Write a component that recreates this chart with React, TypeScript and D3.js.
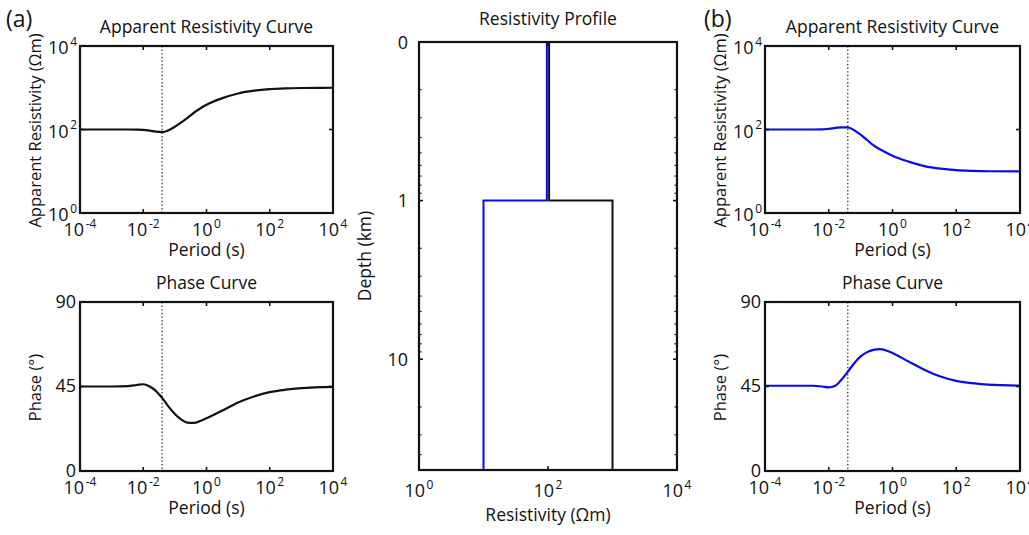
import React from 'react';
import * as d3 from 'd3';

// ---------- data ----------
const periods = [1e-4, 1e-3, 3.2e-3, 6.3e-3, 1e-2, 1.6e-2, 2.5e-2, 4e-2, 6.3e-2, 0.1, 0.16, 0.25, 0.4, 0.63, 1, 3.2, 10, 32, 100, 320, 1000, 1e4];
const rhoA = [100, 100, 100, 99.5, 98, 94, 89, 87, 96, 116, 148, 190, 252, 318, 390, 565, 730, 850, 925, 965, 985, 1000];
const phaseA = [45, 45, 45.2, 45.8, 46.2, 45, 42.7, 38.8, 34.3, 30.4, 27.4, 25.8, 25.6, 26.6, 28.1, 32.2, 36.5, 39.7, 42, 43.3, 44.1, 44.8];
const rhoB = [100, 100, 100, 100.5, 104, 109, 113, 112, 96, 75, 56, 42, 33.5, 28, 23.5, 17, 13.3, 11.5, 10.6, 10.2, 10, 9.9];
const phaseB = [45.4, 45.4, 45.4, 45, 44.5, 45.4, 48.6, 53, 57.4, 61, 63.3, 64.5, 64.9, 64.2, 62.8, 58.3, 53.9, 50.3, 48, 46.8, 46, 45.5];
const skinPeriod = 0.0395;

const periodTicks = [1e-4, 1e-2, 1, 1e2, 1e4];
const periodTickExp = ['-4', '-2', '0', '2', '4'];
const rhoTicks = [1, 1e2, 1e4];
const rhoTickExp = ['0', '2', '4'];
const phaseTicks = [0, 45, 90];

const layerTops = [0.1, 1];
const layerBottoms = [1, 50];
const modelA = [104, 1000];
const modelB = [96, 10];
const depthTicks = [0.1, 1, 10];
const depthTickLabels = ['0', '1', '10'];
const resTicks = [1, 1e2, 1e4];
const resTickExp = ['0', '2', '4'];

// ---------- style ----------
const FONT = "'Open Sans', sans-serif";
const FS = 17.5;
const YFS = 16.5;
const TFS = 18;
const SUP = 12;
const BLUE = '#0a0ae6';
const INK = '#111';
const TICK = 4;

type Box = { x0: number; x1: number; y0: number; y1: number };

function Sup({ x, y, base, exp, anchor }: { x: number; y: number; base: string; exp: string; anchor: string }) {
  return (
    <text x={x} y={y} textAnchor={anchor} fontFamily={FONT} fontSize={TFS} fill={INK}>
      {base}
      <tspan dy={-8.5} dx={1.5} fontSize={SUP}>{exp}</tspan>
    </text>
  );
}

function CurvePanel({ box, title, ylabel, yKind, values, color, label }: any) {
  const x = d3.scaleLog().domain([1e-4, 1e4]).range([box.x0, box.x1]);
  const y = yKind === 'rho'
    ? d3.scaleLog().domain([1, 1e4]).range([box.y1, box.y0])
    : d3.scaleLinear().domain([0, 90]).range([box.y1, box.y0]);
  const line = d3.line<number>()
    .x((_, i) => x(periods[i]))
    .y((v) => y(v))
    .curve(d3.curveMonotoneX);
  const yT = yKind === 'rho' ? rhoTicks : phaseTicks;
  const cx = (box.x0 + box.x1) / 2;
  const cy = (box.y0 + box.y1) / 2;
  return (
    <g>
      {label && (
        <text x={label.x} y={label.y} fontFamily={FONT} fontSize={23} fill={INK}>{label.text}</text>
      )}
      <text x={cx} y={box.y0 - 13} textAnchor="middle" fontFamily={FONT} fontSize={FS} fill={INK}>{title}</text>
      <line x1={x(skinPeriod)} x2={x(skinPeriod)} y1={box.y0} y2={box.y1} stroke="#444" strokeWidth={1.4} strokeDasharray="1.4,2.2" />
      <path d={line(values) || ''} fill="none" stroke={color} strokeWidth={2.2} />
      {periodTicks.slice(1, -1).map((t) => (
        <g key={'xt' + t}>
          <line x1={x(t)} x2={x(t)} y1={box.y1} y2={box.y1 - TICK} stroke={INK} strokeWidth={1.6} />
          <line x1={x(t)} x2={x(t)} y1={box.y0} y2={box.y0 + TICK} stroke={INK} strokeWidth={1.6} />
        </g>
      ))}
      {yT.slice(1, -1).map((t) => (
        <g key={'yt' + t}>
          <line x1={box.x0} x2={box.x0 + TICK} y1={y(t)} y2={y(t)} stroke={INK} strokeWidth={1.6} />
          <line x1={box.x1} x2={box.x1 - TICK} y1={y(t)} y2={y(t)} stroke={INK} strokeWidth={1.6} />
        </g>
      ))}
      <rect x={box.x0} y={box.y0} width={box.x1 - box.x0} height={box.y1 - box.y0} fill="none" stroke={INK} strokeWidth={2.2} />
      {periodTicks.map((t, i) => (
        <Sup key={'xl' + t} x={x(t)} y={box.y1 + 23} base="10" exp={periodTickExp[i]} anchor="middle" />
      ))}
      <text x={cx} y={box.y1 + 43} textAnchor="middle" fontFamily={FONT} fontSize={FS} fill={INK}>Period (s)</text>
      {yKind === 'rho'
        ? rhoTicks.map((t, i) => (
            <Sup key={'yl' + t} x={box.x0 - 3} y={y(t) + 8} base="10" exp={rhoTickExp[i]} anchor="end" />
          ))
        : phaseTicks.map((t) => (
            <text key={'yl' + t} x={box.x0 - 4} y={y(t) + 5.5} textAnchor="end" fontFamily={FONT} fontSize={TFS} fill={INK}>{t}</text>
          ))}
      <text transform={`translate(${box.x0 - 39},${cy + 1}) rotate(-90)`} textAnchor="middle" fontFamily={FONT} fontSize={YFS} fill={INK}>{ylabel}</text>
    </g>
  );
}

function ProfilePanel({ box }: { box: Box }) {
  const x = d3.scaleLog().domain([1, 1e4]).range([box.x0, box.x1]);
  const y = d3.scaleLog().domain([0.1, 50]).range([box.y0, box.y1]);
  const step = (m: number[]) => {
    const pts: [number, number][] = [];
    m.forEach((r, i) => {
      pts.push([x(r), y(layerTops[i])]);
      pts.push([x(r), y(layerBottoms[i])]);
    });
    return d3.line()(pts) || '';
  };
  const minor = y.ticks().filter((t) => !depthTicks.some((d) => Math.abs(d - t) < 1e-9));
  const cx = (box.x0 + box.x1) / 2;
  return (
    <g>
      <text x={cx} y={box.y0 - 17} textAnchor="middle" fontFamily={FONT} fontSize={FS} fill={INK}>Resistivity Profile</text>
      <path d={step(modelB)} fill="none" stroke={BLUE} strokeWidth={2} />
      <path d={step(modelA)} fill="none" stroke={INK} strokeWidth={2} />
      {minor.map((t) => (
        <g key={'m' + t}>
          <line x1={box.x0} x2={box.x0 + 2.5} y1={y(t)} y2={y(t)} stroke={INK} strokeWidth={1.2} />
          <line x1={box.x1} x2={box.x1 - 2.5} y1={y(t)} y2={y(t)} stroke={INK} strokeWidth={1.2} />
        </g>
      ))}
      {depthTicks.slice(1).map((t) => (
        <g key={'d' + t}>
          <line x1={box.x0} x2={box.x0 + TICK} y1={y(t)} y2={y(t)} stroke={INK} strokeWidth={1.6} />
          <line x1={box.x1} x2={box.x1 - TICK} y1={y(t)} y2={y(t)} stroke={INK} strokeWidth={1.6} />
        </g>
      ))}
      {resTicks.slice(1, -1).map((t) => (
        <g key={'r' + t}>
          <line x1={x(t)} x2={x(t)} y1={box.y1} y2={box.y1 - TICK} stroke={INK} strokeWidth={1.6} />
          <line x1={x(t)} x2={x(t)} y1={box.y0} y2={box.y0 + TICK} stroke={INK} strokeWidth={1.6} />
        </g>
      ))}
      <rect x={box.x0} y={box.y0} width={box.x1 - box.x0} height={box.y1 - box.y0} fill="none" stroke={INK} strokeWidth={2.2} />
      {depthTicks.map((t, i) => (
        <text key={'dl' + t} x={box.x0 - 11} y={y(t) + 6.5} textAnchor="end" fontFamily={FONT} fontSize={TFS} fill={INK}>{depthTickLabels[i]}</text>
      ))}
      {resTicks.map((t, i) => (
        <Sup key={'rl' + t} x={x(t)} y={box.y1 + 27} base="10" exp={resTickExp[i]} anchor="middle" />
      ))}
      <text x={cx} y={box.y1 + 51} textAnchor="middle" fontFamily={FONT} fontSize={FS} fill={INK}>Resistivity (Ωm)</text>
      <text transform={`translate(${box.x0 - 48},${(box.y0 + box.y1) / 2}) rotate(-90)`} textAnchor="middle" fontFamily={FONT} fontSize={FS} fill={INK}>Depth (km)</text>
    </g>
  );
}

export default function App() {
  const a1: Box = { x0: 80, x1: 333, y0: 46, y1: 213 };
  const a2: Box = { x0: 80, x1: 333, y0: 302, y1: 471 };
  const mid: Box = { x0: 419, x1: 677, y0: 42, y1: 470 };
  const b1: Box = { x0: 765, x1: 1020, y0: 46, y1: 213 };
  const b2: Box = { x0: 765, x1: 1020, y0: 302, y1: 471 };
  return (
    <svg width={1029} height={535} style={{ position: 'absolute', left: 0, top: 0, background: '#fff' }}>
      <rect width={1029} height={535} fill="#fff" />
      <CurvePanel box={a1} title="Apparent Resistivity Curve" ylabel="Apparent Resistivity (Ωm)" yKind="rho" values={rhoA} color={INK} label={{ x: 6, y: 27, text: '(a)' }} />
      <CurvePanel box={a2} title="Phase Curve" ylabel="Phase (°)" yKind="phase" values={phaseA} color={INK} />
      <ProfilePanel box={mid} />
      <CurvePanel box={b1} title="Apparent Resistivity Curve" ylabel="Apparent Resistivity (Ωm)" yKind="rho" values={rhoB} color={BLUE} label={{ x: 704, y: 27, text: '(b)' }} />
      <CurvePanel box={b2} title="Phase Curve" ylabel="Phase (°)" yKind="phase" values={phaseB} color={BLUE} />
    </svg>
  );
}
